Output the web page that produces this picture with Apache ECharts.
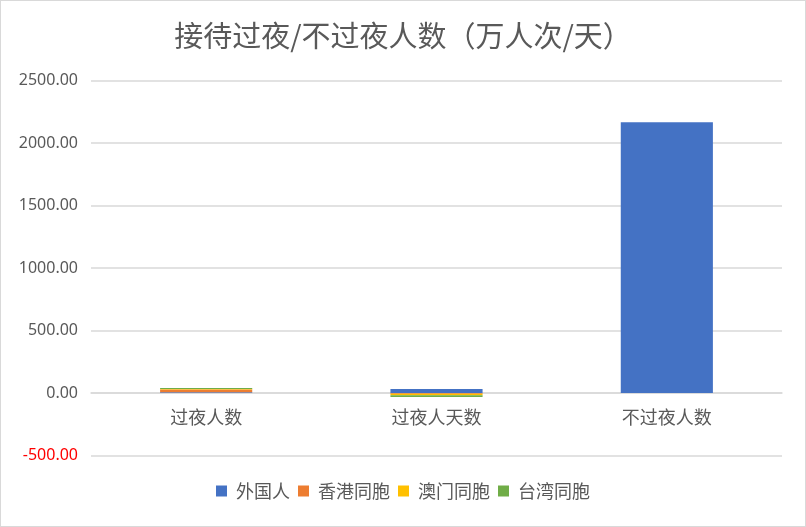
<!DOCTYPE html>
<html><head><meta charset="utf-8">
<script src="https://cdn.jsdelivr.net/npm/echarts@6/dist/echarts.min.js"></script>
<style>html,body{margin:0;padding:0;background:#fff}#c{width:806px;height:527px;box-sizing:border-box;border:1px solid #d9d9d9}</style>
</head><body><div id="c"></div>
<script>
const categories = ['过夜人数', '过夜人天数', '不过夜人数'];
const foreigners = [6, 33, 2167];
const hongkong = [22, -5, 0];
const macau = [5, -13, 0];
const taiwan = [8, -13, 0];
const yTicks = { min: -500, max: 2500, interval: 500 };

const chart = echarts.init(document.getElementById('c'));
const cjk = '"Noto Sans CJK SC", sans-serif';
const num = '"Noto Sans", sans-serif';
function s(name, data, color) {
  return { name, type: 'bar', stack: 'total', data, barWidth: '40%', itemStyle: { color } };
}
const gridTop = 79.5, gridBottom = 70.5, H = 525;
const plotH = H - gridTop - gridBottom;
const zeroOffset = -plotH * (0 - yTicks.min) / (yTicks.max - yTicks.min);
chart.setOption({
  animation: false,
  title: { text: '接待过夜/不过夜人数（万人次/天）', left: 'center', top: 15,
    textStyle: { fontFamily: cjk, fontSize: 29, fontWeight: 'normal', color: '#595959' } },
  legend: { bottom: 21, left: 'center', itemWidth: 11, itemHeight: 11, itemGap: 8,
    icon: 'rect', textStyle: { fontFamily: cjk, fontSize: 18, color: '#595959', padding: [0, 0, 0, 4] } },
  grid: { left: 90, right: 23, top: gridTop, bottom: gridBottom, containLabel: false },
  xAxis: { type: 'category', data: categories, offset: zeroOffset,
    axisLine: { onZero: false, lineStyle: { color: '#d9d9d9', width: 1.5 } },
    axisTick: { show: false },
    axisLabel: { fontFamily: cjk, fontSize: 18, color: '#595959', margin: 15 } },
  yAxis: { type: 'value', min: yTicks.min, max: yTicks.max, interval: yTicks.interval,
    splitLine: { lineStyle: { color: '#d9d9d9', width: 1.5 } },
    axisLine: { show: false }, axisTick: { show: false },
    axisLabel: { margin: 13, fontFamily: num, fontSize: 16,
      formatter: v => v < 0 ? '{r|' + v.toFixed(2) + '}' : '{n|' + v.toFixed(2) + '}',
      rich: { n: { color: '#595959', fontSize: 16, fontFamily: num },
              r: { color: '#ff0000', fontSize: 16, fontFamily: num } } } },
  series: [
    s('外国人', foreigners, '#4472c4'),
    s('香港同胞', hongkong, '#ed7d31'),
    s('澳门同胞', macau, '#ffc000'),
    s('台湾同胞', taiwan, '#70ad47')
  ]
});
</script></body></html>
